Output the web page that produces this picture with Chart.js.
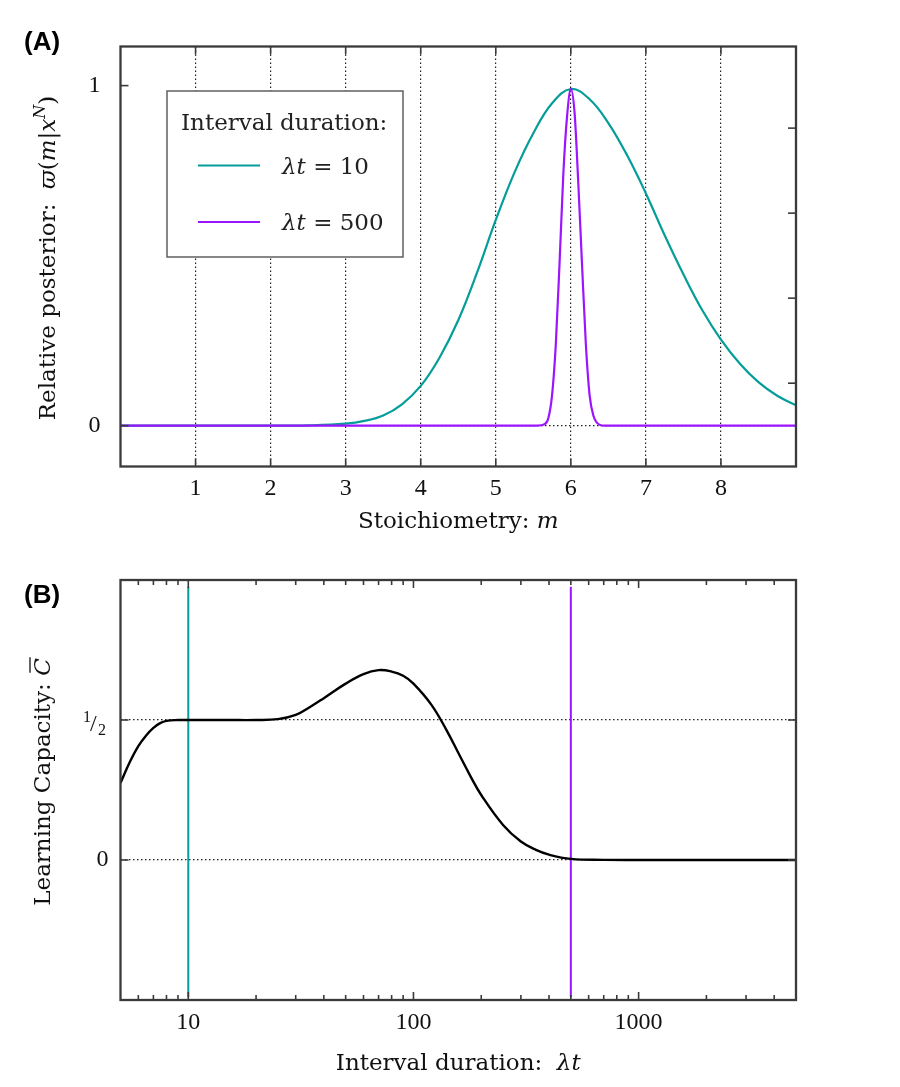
<!DOCTYPE html>
<html>
<head>
<meta charset="utf-8">
<script src="https://cdn.jsdelivr.net/npm/chart.js@4/dist/chart.umd.min.js"></script>
<style>
  html, body { margin: 0; padding: 0; background: #fff; }
  #wrap { position: relative; width: 900px; height: 1087px; }
  canvas { position: absolute; left: 0; }
  #chart-a { top: 0; }
  #chart-b { top: 540px; }
</style>
</head>
<body>
<div id="wrap">
  <canvas id="chart-a" width="900" height="540"></canvas>
  <canvas id="chart-b" width="900" height="547"></canvas>
</div>
<script>
// ---- data, panel A (posterior over stoichiometry m) ----
const mShort = [0, 1, 2, 2.5, 3, 3.25, 3.5, 3.75, 4, 4.25, 4.5, 4.75, 5, 5.25, 5.5, 5.75, 6, 6.25, 6.5, 6.75, 7, 7.25, 7.5, 7.75, 8, 8.25, 8.5, 8.75, 9];
const postShort = [0, 0, 0, 0.001, 0.006, 0.014, 0.03, 0.063, 0.117, 0.2, 0.31, 0.45, 0.605, 0.745, 0.86, 0.948, 0.99, 0.96, 0.89, 0.795, 0.683, 0.56, 0.445, 0.34, 0.253, 0.183, 0.128, 0.088, 0.06];
const mLong = [0, 5.55, 5.65, 5.7, 5.75, 5.8, 5.85, 5.9, 5.95, 6, 6.05, 6.1, 6.15, 6.2, 6.25, 6.3, 6.38, 6.45, 9];
const postLong = [0, 0, 0.004, 0.022, 0.09, 0.24, 0.48, 0.74, 0.91, 0.99, 0.92, 0.71, 0.47, 0.24, 0.09, 0.03, 0.003, 0, 0];
const xTicksA = [1, 2, 3, 4, 5, 6, 7, 8];
const yTicksA = [0, 1];
const yRightTicksA = [0.125, 0.375, 0.625, 0.875];

// ---- data, panel B (learning capacity vs interval duration) ----
const lambdaT = [5, 5.5, 6, 6.5, 7, 7.5, 8, 9, 10, 15, 20, 25, 30, 35, 40, 50, 60, 70, 80, 90, 100, 120, 140, 160, 180, 200, 250, 300, 350, 400, 500, 700, 1000, 2000, 5000];
const capacity = [0.275, 0.35, 0.407, 0.445, 0.472, 0.489, 0.497, 0.5, 0.5, 0.5, 0.5, 0.503, 0.518, 0.548, 0.578, 0.63, 0.664, 0.678, 0.673, 0.658, 0.63, 0.555, 0.465, 0.375, 0.296, 0.232, 0.125, 0.066, 0.036, 0.019, 0.004, 0.0005, 0, 0, 0];
const markerLambda = [10, 500];
const markerSpan = [-0.49, 0.976];
const xMajorB = [10, 100, 1000];
const xMinorB = [6, 7, 8, 9, 20, 30, 40, 50, 60, 70, 80, 90, 200, 300, 400, 500, 600, 700, 800, 900, 2000, 3000, 4000];
const yTicksB = [0, 0.5];

const teal = '#049d99';
const purple = '#9d14ff';
const frameColor = '#3a3a3a';
const serif = '"DejaVu Serif", serif';
const digits = '"Liberation Serif", serif';

function drawRich(ctx, parts, x, y, rotate) {
  ctx.save();
  ctx.translate(x, y);
  if (rotate) ctx.rotate(-Math.PI / 2);
  ctx.textAlign = 'left';
  ctx.textBaseline = 'alphabetic';
  let total = 0;
  parts.forEach((p) => { ctx.font = p.font; total += ctx.measureText(p.text).width; });
  let cx = -total / 2;
  parts.forEach((p) => {
    ctx.font = p.font;
    ctx.fillText(p.text, cx, p.dy || 0);
    const w = ctx.measureText(p.text).width;
    if (p.bar) {
      ctx.lineWidth = 1.3;
      ctx.beginPath();
      ctx.moveTo(cx + 3, p.bar);
      ctx.lineTo(cx + w + 1, p.bar);
      ctx.stroke();
    }
    cx += w;
  });
  ctx.restore();
}

function tickLine(ctx, x1, y1, x2, y2) {
  ctx.beginPath();
  ctx.moveTo(x1, y1);
  ctx.lineTo(x2, y2);
  ctx.stroke();
}

// inward ticks + box frame + titles
function framePlugin(opts) {
  return {
    id: 'frame',
    afterDraw(chart) {
      const { ctx, chartArea: a, scales } = chart;
      ctx.save();
      ctx.strokeStyle = frameColor;
      ctx.lineWidth = 1.6;
      opts.xTicks.forEach(([v, len]) => {
        const px = scales.x.getPixelForValue(v);
        tickLine(ctx, px, a.bottom, px, a.bottom - len);
        tickLine(ctx, px, a.top, px, a.top + len);
      });
      opts.yLeft.forEach((v) => {
        const py = scales.y.getPixelForValue(v);
        tickLine(ctx, a.left, py, a.left + 8, py);
      });
      opts.yRight.forEach((v) => {
        const py = scales.y.getPixelForValue(v);
        tickLine(ctx, a.right, py, a.right - 8, py);
      });
      ctx.lineWidth = 2.3;
      ctx.strokeRect(a.left, a.top, a.right - a.left, a.bottom - a.top);

      ctx.fillStyle = '#111';
      ctx.strokeStyle = '#111';
      drawRich(ctx, opts.xTitle, (a.left + a.right) / 2, opts.xTitleY, false);
      drawRich(ctx, opts.yTitle, opts.yTitleX, opts.yTitleCY, true);

      ctx.font = 'bold 26px "Liberation Sans", sans-serif';
      ctx.fillStyle = '#000';
      ctx.textAlign = 'left';
      ctx.textBaseline = 'alphabetic';
      ctx.fillText(opts.panel, 24, opts.panelY);
      if (opts.extra) opts.extra(chart);
      ctx.restore();
    },
  };
}

// boxed legend drawn inside panel A
const legendBoxPlugin = {
  id: 'legendBox',
  afterDraw(chart) {
    const { ctx } = chart;
    ctx.save();
    ctx.fillStyle = '#fff';
    ctx.fillRect(167, 91, 236, 166);
    ctx.strokeStyle = '#555';
    ctx.lineWidth = 1.4;
    ctx.strokeRect(167, 91, 236, 166);
    ctx.fillStyle = '#222';
    ctx.font = '23px ' + serif;
    ctx.textBaseline = 'alphabetic';
    ctx.textAlign = 'left';
    ctx.fillText('Interval duration:', 181, 130);
    const rows = [173.5, 230];
    chart.data.datasets.forEach((ds, i) => {
      const y = rows[i];
      ctx.strokeStyle = ds.borderColor;
      ctx.lineWidth = 2.2;
      tickLine(ctx, 198, y - 8, 260, y - 8);
      const [sym, ...rest] = ds.label.split(' ');
      ctx.fillStyle = '#222';
      ctx.font = 'italic 23px ' + serif;
      ctx.fillText(sym, 282, y);
      const w = ctx.measureText(sym).width;
      ctx.font = '23px ' + serif;
      ctx.fillText(' ' + rest.join(' '), 282 + w, y);
    });
    ctx.restore();
  },
};

const dottedGrid = { color: '#222', lineWidth: 1.2, drawTicks: false };

new Chart(document.getElementById('chart-a'), {
  type: 'line',
  data: {
    datasets: [
      {
        label: 'λt = 10',
        data: mShort.map((m, i) => ({ x: m, y: postShort[i] })),
        borderColor: teal,
        borderWidth: 2.2,
        pointRadius: 0,
        tension: 0.4,
        order: 1,
      },
      {
        label: 'λt = 500',
        data: mLong.map((m, i) => ({ x: m, y: postLong[i] })),
        borderColor: purple,
        borderWidth: 2.2,
        pointRadius: 0,
        cubicInterpolationMode: 'monotone',
        order: 0,
      },
    ],
  },
  options: {
    responsive: false,
    animation: false,
    layout: { padding: { left: 0, right: 104, top: 46.5, bottom: 0 } },
    plugins: { legend: { display: false }, tooltip: { enabled: false } },
    scales: {
      x: {
        type: 'linear', min: 0, max: 9, z: 1,
        afterBuildTicks: (s) => { s.ticks = xTicksA.map((v) => ({ value: v })); },
        afterFit: (s) => { s.height = 73.5; },
        grid: dottedGrid,
        border: { display: false, dash: [1.5, 2.5] },
        ticks: { font: { family: digits, size: 24 }, color: '#111', padding: 8, maxRotation: 0 },
      },
      y: {
        type: 'linear', min: -0.12, max: 1.115, z: 1,
        afterBuildTicks: (s) => { s.ticks = yTicksA.map((v) => ({ value: v })); },
        afterFit: (s) => { s.width = 120.5; },
        grid: { ...dottedGrid, color: (c) => (c.tick && c.tick.value === 0 ? '#222' : 'rgba(0,0,0,0)') },
        border: { display: false, dash: [1.5, 2.5] },
        ticks: { font: { family: digits, size: 24 }, color: '#111', padding: 20 },
      },
    },
  },
  plugins: [
    framePlugin({
      xTicks: xTicksA.map((v) => [v, 8]),
      yLeft: yTicksA,
      yRight: yRightTicksA,
      panel: '(A)', panelY: 50,
      xTitleY: 528,
      xTitle: [
        { text: 'Stoichiometry: ', font: '23px ' + serif },
        { text: 'm', font: 'italic 23px ' + serif },
      ],
      yTitleX: 55, yTitleCY: 258,
      yTitle: [
        { text: 'Relative posterior:  ', font: '23px ' + serif },
        { text: 'ϖ', font: 'italic 23px ' + serif },
        { text: '(', font: '23px ' + serif },
        { text: 'm', font: 'italic 23px ' + serif },
        { text: '|', font: '23px ' + serif },
        { text: 'x', font: 'italic 23px ' + serif },
        { text: 'N', font: 'italic 16px ' + serif, dy: -10 },
        { text: ')', font: '23px ' + serif },
      ],
    }),
    legendBoxPlugin,
  ],
});

new Chart(document.getElementById('chart-b'), {
  type: 'line',
  data: {
    datasets: [
      {
        label: 'capacity',
        data: lambdaT.map((t, i) => ({ x: t, y: capacity[i] })),
        borderColor: '#000',
        borderWidth: 2.4,
        pointRadius: 0,
        tension: 0.4,
      },
      {
        label: 'λt = 10',
        data: markerSpan.map((y) => ({ x: markerLambda[0], y })),
        borderColor: teal,
        borderWidth: 2,
        pointRadius: 0,
      },
      {
        label: 'λt = 500',
        data: markerSpan.map((y) => ({ x: markerLambda[1], y })),
        borderColor: purple,
        borderWidth: 2,
        pointRadius: 0,
      },
    ],
  },
  options: {
    responsive: false,
    animation: false,
    layout: { padding: { left: 0, right: 104, top: 40, bottom: 0 } },
    plugins: { legend: { display: false }, tooltip: { enabled: false } },
    scales: {
      x: {
        type: 'logarithmic', min: 5, max: 5000,
        afterBuildTicks: (s) => { s.ticks = xMajorB.map((v) => ({ value: v })); },
        afterFit: (s) => { s.height = 87; },
        grid: { display: false, drawTicks: false },
        border: { display: false },
        ticks: { font: { family: digits, size: 24 }, color: '#111', padding: 8, maxRotation: 0, callback: (v) => String(v) },
      },
      y: {
        type: 'linear', min: -0.5, max: 1,
        afterBuildTicks: (s) => { s.ticks = yTicksB.map((v) => ({ value: v })); },
        afterFit: (s) => { s.width = 120.5; },
        grid: dottedGrid,
        border: { display: false, dash: [1.5, 2.5] },
        ticks: { font: { family: digits, size: 24 }, color: '#111', padding: 12, callback: (v) => (v === 0 ? '0' : '') },
      },
    },
  },
  plugins: [
    framePlugin({
      xTicks: xMajorB.map((v) => [v, 8]).concat(xMinorB.map((v) => [v, 5])),
      yLeft: yTicksB,
      yRight: yTicksB,
      panel: '(B)', panelY: 63,
      xTitleY: 530,
      xTitle: [
        { text: 'Interval duration:  ', font: '23px ' + serif },
        { text: 'λt', font: 'italic 23px ' + serif },
      ],
      yTitleX: 50, yTitleCY: 242,
      yTitle: [
        { text: 'Learning Capacity: ', font: '23px ' + serif },
        { text: 'C', font: 'italic 23px ' + serif, bar: -20 },
      ],
      extra(chart) {
        // the 1/2 tick label as a slashed fraction
        const { ctx, scales } = chart;
        const py = scales.y.getPixelForValue(0.5);
        ctx.fillStyle = '#111';
        ctx.textAlign = 'left';
        ctx.font = '16px ' + digits;
        ctx.fillText('1', 83, py + 2);
        ctx.font = '24px ' + digits;
        ctx.fillText('/', 90, py + 11);
        ctx.font = '16px ' + digits;
        ctx.fillText('2', 98, py + 15);
      },
    }),
  ],
});
</script>
</body>
</html>
